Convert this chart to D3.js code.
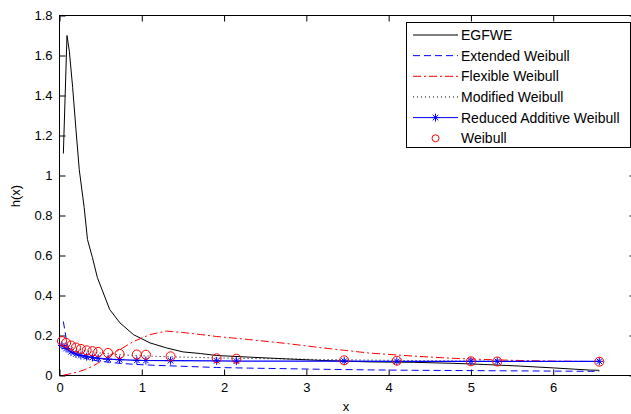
<!DOCTYPE html>
<html>
<head>
<meta charset="utf-8">
<script src="https://cdn.jsdelivr.net/npm/d3@7"></script>
<style>
  body { margin: 0; overflow: hidden; background: #fff; }
  text { font-family: "Liberation Sans", Arial, sans-serif; }
</style>
</head>
<body>
<svg id="chart" width="640" height="414"></svg>
<script>
// x grid used by the smooth curves
var gridX = [0.047, 0.091, 0.12, 0.16, 0.2, 0.24, 0.3, 0.34, 0.4, 0.46, 0.61, 0.735, 0.9, 1.1, 1.3, 1.5, 1.71, 1.91, 2.3, 2.76, 3.2, 3.77, 4.3, 4.78, 5.17, 5.6, 6.0, 6.45, 6.56];
var egfwe = [1.11, 1.70, 1.62, 1.44, 1.23, 1.03, 0.84, 0.68, 0.59, 0.49, 0.33, 0.263, 0.204, 0.163, 0.138, 0.118, 0.11, 0.10, 0.092, 0.083, 0.075, 0.068, 0.066, 0.061, 0.055, 0.047, 0.038, 0.027, 0.026];
var extendedWeibull = [0.27, 0.16, 0.13, 0.115, 0.105, 0.097, 0.088, 0.083, 0.078, 0.073, 0.066, 0.061, 0.056, 0.052, 0.049, 0.046, 0.043, 0.04, 0.037, 0.034, 0.031, 0.028, 0.026, 0.025, 0.024, 0.023, 0.022, 0.021, 0.021];
var flexibleWeibull = [0.002, 0.005, 0.008, 0.012, 0.016, 0.02, 0.028, 0.036, 0.046, 0.06, 0.1, 0.13, 0.17, 0.205, 0.222, 0.215, 0.205, 0.195, 0.18, 0.16, 0.138, 0.112, 0.097, 0.086, 0.08, 0.075, 0.072, 0.07, 0.07];
var modifiedWeibull = [0.18, 0.16, 0.15, 0.14, 0.135, 0.13, 0.125, 0.122, 0.118, 0.114, 0.108, 0.104, 0.1, 0.097, 0.094, 0.092, 0.09, 0.088, 0.085, 0.083, 0.08, 0.077, 0.075, 0.073, 0.072, 0.071, 0.07, 0.07, 0.07];

// observation points (markers)
var pointX = [0.03, 0.08, 0.14, 0.2, 0.26, 0.33, 0.4, 0.47, 0.59, 0.73, 0.94, 1.05, 1.35, 1.91, 2.15, 3.46, 4.10, 5.0, 5.32, 6.56];
var reducedAdditive = [0.15, 0.135, 0.118, 0.108, 0.1, 0.094, 0.09, 0.086, 0.082, 0.079, 0.076, 0.075, 0.074, 0.073, 0.072, 0.072, 0.071, 0.071, 0.071, 0.071];
var weibull = [0.172, 0.163, 0.15, 0.14, 0.133, 0.126, 0.122, 0.118, 0.113, 0.108, 0.105, 0.104, 0.096, 0.086, 0.084, 0.076, 0.074, 0.071, 0.07, 0.069];

// 7 sits on the right edge, its label falls outside the picture
var xTicks = [0, 1, 2, 3, 4, 5, 6, 7];
var xTickLabels = ['0', '1', '2', '3', '4', '5', '6', ''];
var yTicks = [0, 0.2, 0.4, 0.6, 0.8, 1, 1.2, 1.4, 1.6, 1.8];

var svg = d3.select('#chart');

var x = d3.scaleLinear().domain([0, 7]).range([59.5, 635.5]);
var y = d3.scaleLinear().domain([0, 1.8]).range([375.5, 15.5]);

// axes with inward ticks
svg.append('g')
  .attr('transform', 'translate(0,375.5)')
  .call(d3.axisBottom(x).tickValues(xTicks)
    .tickFormat(function (d, i) { return xTickLabels[i]; })
    .tickSizeInner(-6).tickSizeOuter(0).tickPadding(7));
svg.append('g')
  .attr('transform', 'translate(0,15.5)')
  .call(d3.axisTop(x).tickValues(xTicks).tickFormat('').tickSizeInner(-6).tickSizeOuter(0));
svg.append('g')
  .attr('transform', 'translate(59.5,0)')
  .call(d3.axisLeft(y).tickValues(yTicks).tickFormat(d3.format('~g')).tickSizeInner(-6).tickSizeOuter(0).tickPadding(7));
svg.append('g')
  .attr('transform', 'translate(635.5,0)')
  .call(d3.axisRight(y).tickValues(yTicks).tickFormat('').tickSizeInner(-6).tickSizeOuter(0));

svg.selectAll('.domain').remove();
svg.selectAll('.tick line').attr('stroke', '#000');
svg.selectAll('.tick text').attr('font-size', 13).attr('fill', '#000')
  .style('font-family', '"Liberation Sans", Arial, sans-serif');

svg.append('rect')
  .attr('x', 59.5).attr('y', 15.5)
  .attr('width', 576).attr('height', 360)
  .attr('fill', 'none').attr('stroke', '#000');

// axis labels
svg.append('text').attr('x', 346).attr('y', 411)
  .attr('text-anchor', 'middle').attr('font-size', 13).text('x');
svg.append('text')
  .attr('transform', 'translate(20,196) rotate(-90)')
  .attr('text-anchor', 'middle').attr('font-size', 13).text('h(x)');

var plot = svg.append('g');

var line = d3.line()
  .x(function (d) { return x(d[0]); })
  .y(function (d) { return y(d[1]); });

function pairs(xs, ys) {
  return xs.map(function (v, i) { return [v, ys[i]]; });
}

var curves = [
  { values: egfwe, color: '#000', dash: null },
  { values: extendedWeibull, color: '#0000ff', dash: '7,4' },
  { values: flexibleWeibull, color: '#ff0000', dash: '8,3,2,3' },
  { values: modifiedWeibull, color: '#000', dash: '1,3' }
];

curves.forEach(function (c) {
  plot.append('path')
    .datum(pairs(gridX, c.values))
    .attr('d', line)
    .attr('fill', 'none')
    .attr('stroke', c.color)
    .attr('stroke-width', 1)
    .attr('stroke-dasharray', c.dash);
});

// reduced additive weibull: solid line + asterisks
plot.append('path')
  .datum(pairs(pointX, reducedAdditive))
  .attr('d', line)
  .attr('fill', 'none')
  .attr('stroke', '#0000ff')
  .attr('stroke-width', 1.2);

function asterisk(s) {
  var d = s * 0.7;
  return 'M' + (-s) + ',0L' + s + ',0M0,' + (-s) + 'L0,' + s +
    'M' + (-d) + ',' + (-d) + 'L' + d + ',' + d +
    'M' + (-d) + ',' + d + 'L' + d + ',' + (-d);
}

plot.selectAll('.star')
  .data(pairs(pointX, reducedAdditive))
  .enter()
  .append('path')
  .attr('class', 'star')
  .attr('transform', function (d) { return 'translate(' + x(d[0]) + ',' + y(d[1]) + ')'; })
  .attr('d', asterisk(4))
  .attr('stroke', '#0000ff')
  .attr('stroke-width', 1);

plot.selectAll('.circ')
  .data(pairs(pointX, weibull))
  .enter()
  .append('circle')
  .attr('class', 'circ')
  .attr('cx', function (d) { return x(d[0]); })
  .attr('cy', function (d) { return y(d[1]); })
  .attr('r', 4.5)
  .attr('fill', 'none')
  .attr('stroke', '#ff0000')
  .attr('stroke-width', 1);

// legend
var legendNames = ['EGFWE', 'Extended Weibull', 'Flexible Weibull', 'Modified Weibull', 'Reduced Additive Weibull', 'Weibull'];
var legend = svg.append('g');
legend.append('rect')
  .attr('x', 406.5).attr('y', 22.5)
  .attr('width', 224).attr('height', 125)
  .attr('fill', '#fff').attr('stroke', '#000');

var styles = [
  { color: '#000', dash: null, line: true },
  { color: '#0000ff', dash: '7,4', line: true },
  { color: '#ff0000', dash: '8,3,2,3', line: true },
  { color: '#000', dash: '1,3', line: true },
  { color: '#0000ff', dash: null, line: true, star: true },
  { color: '#ff0000', dash: null, line: false, circle: true }
];

legendNames.forEach(function (name, i) {
  var ly = 35 + i * 20.65;
  var st = styles[i];
  if (st.line) {
    legend.append('line')
      .attr('x1', 413).attr('x2', 458)
      .attr('y1', ly).attr('y2', ly)
      .attr('stroke', st.color)
      .attr('stroke-dasharray', st.dash);
  }
  if (st.star) {
    legend.append('path')
      .attr('transform', 'translate(435.5,' + ly + ')')
      .attr('d', asterisk(4))
      .attr('stroke', st.color);
  }
  if (st.circle) {
    legend.append('circle')
      .attr('cx', 435.5).attr('cy', ly).attr('r', 3.5)
      .attr('fill', 'none').attr('stroke', st.color);
  }
  legend.append('text')
    .attr('x', 461).attr('y', ly).attr('dy', '0.35em')
    .attr('font-size', 14)
    .text(name);
});
</script>
</body>
</html>
